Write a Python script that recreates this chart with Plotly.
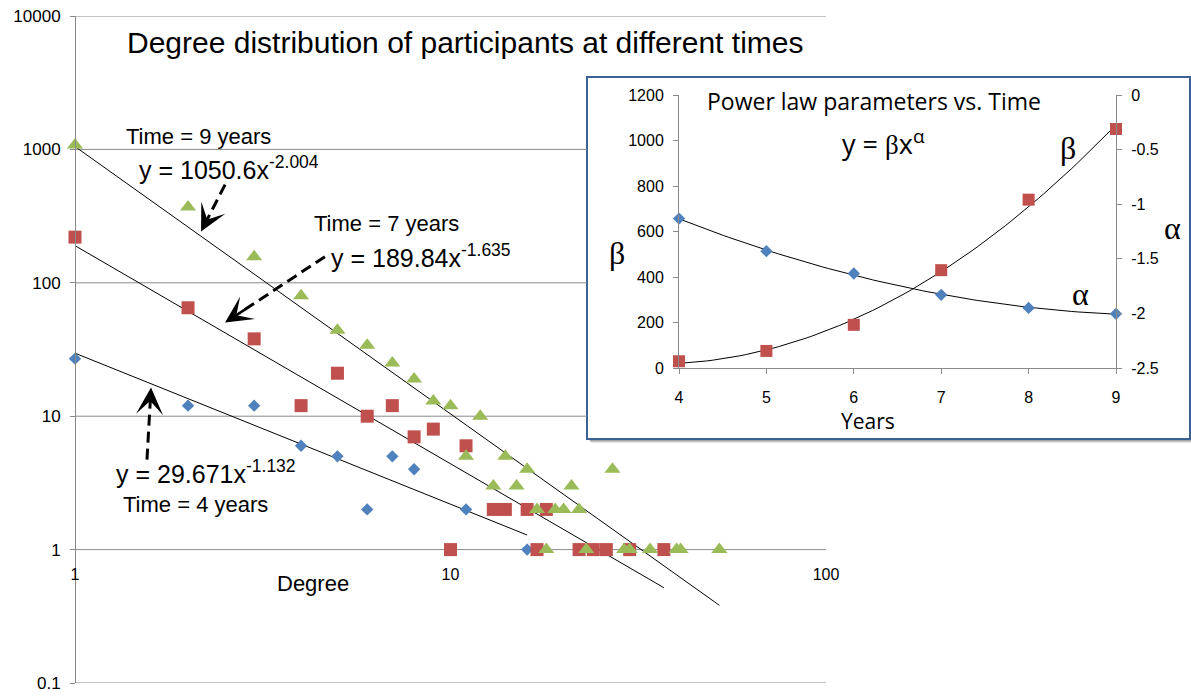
import numpy as np
import plotly.graph_objects as go

W, H = 1191, 697

# ---- degree distributions (degree -> number of participants) ----
deg_t4 = [1, 2, 3, 4, 5, 6, 7, 8, 11, 16]
cnt_t4 = [27, 12, 12, 6, 5, 2, 5, 4, 2, 1]

deg_t7 = [1, 2, 3, 4, 5, 6, 7, 8, 9, 10, 11, 13, 14, 16, 17, 18, 22, 24, 26, 30, 37]
cnt_t7 = [220, 65, 38, 12, 21, 10, 12, 7, 8, 1, 6, 2, 2, 2, 1, 2, 1, 1, 1, 1, 1]

deg_t9 = [1, 2, 3, 4, 5, 6, 7, 8, 9, 10, 11, 12, 13, 14, 15, 16, 17, 18, 19, 20,
          21, 22, 23, 27, 29, 30, 34, 40, 41, 52]
cnt_t9 = [1080, 370, 157, 80, 44, 34, 25, 19, 13, 12, 5, 10, 3, 5, 3, 4, 2, 1, 2, 2,
          3, 2, 1, 4, 1, 1, 1, 1, 1, 1]

# power-law fits y = beta * x^alpha for each snapshot
fit_t4 = (29.671, -1.132)
fit_t7 = (189.84, -1.635)
fit_t9 = (1050.6, -2.004)

# ---- power-law parameters over time ----
years = [4, 5, 6, 7, 8, 9]
beta = [29.671, 75, 189.84, 430, 740, 1050.6]
alpha = [-1.132, -1.43, -1.635, -1.83, -1.95, -2.004]

y_tickvals = [0.1, 1, 10, 100, 1000, 10000]
y_ticktext = ["0.1", "1", "10", "100", "1000", "10000"]
x_tickvals = [1, 10, 100]
x_ticktext = ["1", "10", "100"]

BLUE, RED, GREEN = "#4F81BD", "#C0504D", "#9BBB59"
GRID = "#8A8A8A"
SANS = "Liberation Sans, Arial, sans-serif"
SERIF = "Liberation Serif, Times New Roman, serif"
CAL = "Open Sans, Carlito, Calibri, sans-serif"


def px(x):
    return x / W


def py(y):
    return 1 - y / H


# main plot area
MX0, MX1 = px(75), px(826)
MY0, MY1 = py(683), py(16)
# inset plot area
IX0, IX1 = px(679), px(1116)
IY0, IY1 = py(368), py(95)

fig = go.Figure()


def fit_curve(params, xmax):
    b, a = params
    xs = np.logspace(0, np.log10(xmax), 60)
    return xs, b * xs ** a


for xmax, params in [(max(deg_t4), fit_t4), (max(deg_t7), fit_t7), (max(deg_t9), fit_t9)]:
    xs, ys = fit_curve(params, xmax)
    fig.add_trace(go.Scatter(x=xs, y=ys, mode="lines", line=dict(color="black", width=1),
                             xaxis="x", yaxis="y", showlegend=False, hoverinfo="skip"))

fig.add_trace(go.Scatter(x=deg_t4, y=cnt_t4, mode="markers", name="Time = 4 years",
                         marker=dict(symbol="diamond", size=9.5, color=BLUE),
                         cliponaxis=False, xaxis="x", yaxis="y", showlegend=False))
fig.add_trace(go.Scatter(x=deg_t7, y=cnt_t7, mode="markers", name="Time = 7 years",
                         marker=dict(symbol="square", size=13, color=RED),
                         cliponaxis=False, xaxis="x", yaxis="y", showlegend=False))
fig.add_trace(go.Scatter(x=deg_t9, y=cnt_t9, mode="markers", name="Time = 9 years",
                         marker=dict(symbol="triangle-up", size=14, color=GREEN),
                         cliponaxis=False, xaxis="x", yaxis="y", showlegend=False))

# dashed pointer arrows from equations to their fit lines (start -> tip, data coords)
pointers = [((2.51, 545), (2.166, 242)),
            ((4.63, 157), (2.51, 50.3)),
            ((1.555, 4.73), (1.594, 16.4))]
annotations = []
for (sx, sy), (tx, ty) in pointers:
    lsx, lsy, ltx, lty = np.log10([sx, sy, tx, ty])
    # stop the dashes a little short of the tip, the arrowhead finishes it
    ex, ey = ltx + 0.14 * (lsx - ltx), lty + 0.14 * (lsy - lty)
    fig.add_trace(go.Scatter(x=[sx, 10 ** ex], y=[sy, 10 ** ey], mode="lines",
                             line=dict(color="black", width=3, dash="11px,6px"),
                             xaxis="x", yaxis="y", showlegend=False, hoverinfo="skip"))
    hx, hy = ltx + 0.22 * (lsx - ltx), lty + 0.22 * (lsy - lty)
    annotations.append(dict(x=ltx, y=lty, xref="x", yref="y", ax=hx, ay=hy,
                            axref="x", ayref="y", text="", showarrow=True,
                            arrowhead=3, arrowsize=1.8, arrowwidth=2.5,
                            arrowcolor="black", standoff=0))

# inset: power-law parameters vs. time with quadratic trend lines
yr_fine = np.linspace(min(years), max(years), 80)
beta_fit = np.polyval(np.polyfit(years, beta, 2), yr_fine)
alpha_fit = np.polyval(np.polyfit(years, alpha, 2), yr_fine)

fig.add_trace(go.Scatter(x=yr_fine, y=beta_fit, mode="lines", line=dict(color="black", width=1),
                         xaxis="x2", yaxis="y2", showlegend=False, hoverinfo="skip"))
fig.add_trace(go.Scatter(x=yr_fine, y=alpha_fit, mode="lines", line=dict(color="black", width=1),
                         xaxis="x2", yaxis="y3", showlegend=False, hoverinfo="skip"))
fig.add_trace(go.Scatter(x=years, y=beta, mode="markers", name="β",
                         marker=dict(symbol="square", size=12, color=RED),
                         cliponaxis=False, xaxis="x2", yaxis="y2", showlegend=False))
fig.add_trace(go.Scatter(x=years, y=alpha, mode="markers", name="α",
                         marker=dict(symbol="diamond", size=9.5, color=BLUE),
                         cliponaxis=False, xaxis="x2", yaxis="y3", showlegend=False))

# ---- shapes: gridlines of the main plot and the inset frame ----
shapes = []
box = dict(x0=px(587), x1=px(1190), y0=py(439), y1=py(77))
for off, op in [(4, 0.10), (3, 0.14), (2, 0.18)]:
    shapes.append(dict(type="rect", xref="paper", yref="paper", layer="below",
                       x0=box["x0"] + px(off), x1=box["x1"] + px(off),
                       y0=box["y0"] - off / H, y1=box["y1"] - off / H,
                       line=dict(width=0), fillcolor=f"rgba(0,0,0,{op})"))
shapes.append(dict(type="rect", xref="paper", yref="paper", layer="below",
                   line=dict(color="#3A6393", width=2), fillcolor="white", **box))
for v in y_tickvals:
    right = MX1 if v in (0.1, 1, 10000) else box["x0"]
    shapes.append(dict(type="line", xref="paper", yref="y", layer="below",
                       x0=MX0, x1=right, y0=v, y1=v, line=dict(color=GRID, width=1)))


def label(text, x, y, size, family=SANS, xanchor="left", yanchor="middle"):
    annotations.append(dict(text=text, x=px(x), y=py(y), xref="paper", yref="paper",
                            xanchor=xanchor, yanchor=yanchor, showarrow=False,
                            font=dict(size=size, family=family, color="black")))


label("Degree distribution of participants at different times", 465, 42, 30, xanchor="center")
label("Time = 9 years", 124, 137, 22)
label("y = 1050.6x<sup>-2.004</sup>", 137, 168, 25)
label("Time = 7 years", 312, 224, 22)
label("y = 189.84x<sup>-1.635</sup>", 329, 256, 25)
label("y = 29.671x<sup>-1.132</sup>", 114, 472, 25)
label("Time = 4 years", 121, 505, 22)
label("Degree", 313, 583, 22, xanchor="center")

label("Power law parameters vs. Time", 705, 101, 23, family=CAL)
label(f"y = <span style=\"font-family:{SERIF}\">β</span>x<sup>α</sup>", 840, 142, 27, family=CAL)
label("β", 617, 253, 32, family=SERIF, xanchor="center")
label("α", 1172, 228, 32, family=SERIF, xanchor="center")
label("β", 1068, 148, 32, family=SERIF, xanchor="center")
label("α", 1080, 294, 32, family=SERIF, xanchor="center")
label("Years", 868, 421, 21, family=CAL, xanchor="center")

y_one = MY0 + (MY1 - MY0) * (0 - (-1)) / 5  # paper height of y = 1

fig.update_layout(
    width=W, height=H, autosize=False,
    margin=dict(l=0, r=0, t=0, b=0),
    paper_bgcolor="white", plot_bgcolor="rgba(0,0,0,0)",
    template="none",
    font=dict(family=SANS, color="black"),
    showlegend=False,
    xaxis=dict(type="log", range=[0, 2], domain=[MX0, MX1], anchor="free", position=y_one,
               tickvals=x_tickvals, ticktext=x_ticktext, showgrid=False, zeroline=False,
               showline=False, ticks="", ticklabelstandoff=13,
               tickfont=dict(size=16, family=SANS), automargin=False),
    yaxis=dict(type="log", range=[-1, 4], domain=[MY0, MY1], anchor="free", position=MX0,
               tickvals=y_tickvals, ticktext=y_ticktext, showgrid=False, zeroline=False,
               showline=True, linecolor=GRID, linewidth=1, ticks="outside", ticklen=5,
               tickcolor=GRID, ticklabelstandoff=6,
               tickfont=dict(size=17, family=SANS), automargin=False),
    xaxis2=dict(range=[4, 9], domain=[IX0, IX1], anchor="y2", tickvals=years,
                showgrid=False, zeroline=False, showline=True, linecolor=GRID,
                ticks="outside", ticklen=5, tickcolor=GRID, ticklabelstandoff=10,
                tickfont=dict(size=16, family=SANS), automargin=False),
    yaxis2=dict(range=[0, 1200], domain=[IY0, IY1], anchor="x2",
                tickvals=[0, 200, 400, 600, 800, 1000, 1200],
                showgrid=False, zeroline=False, showline=True, linecolor=GRID,
                ticks="outside", ticklen=5, tickcolor=GRID, ticklabelstandoff=6,
                tickfont=dict(size=16, family=SANS), automargin=False),
    yaxis3=dict(range=[-2.5, 0], overlaying="y2", side="right", anchor="x2",
                tickvals=[-2.5, -2, -1.5, -1, -0.5, 0],
                ticktext=["-2.5", "-2", "-1.5", "-1", "-0.5", "0"],
                showgrid=False, zeroline=False, showline=True, linecolor=GRID,
                ticks="outside", ticklen=5, tickcolor=GRID, ticklabelstandoff=6,
                tickfont=dict(size=16, family=SANS), automargin=False),
    shapes=shapes,
    annotations=annotations,
)

fig.write_html("out.html")
